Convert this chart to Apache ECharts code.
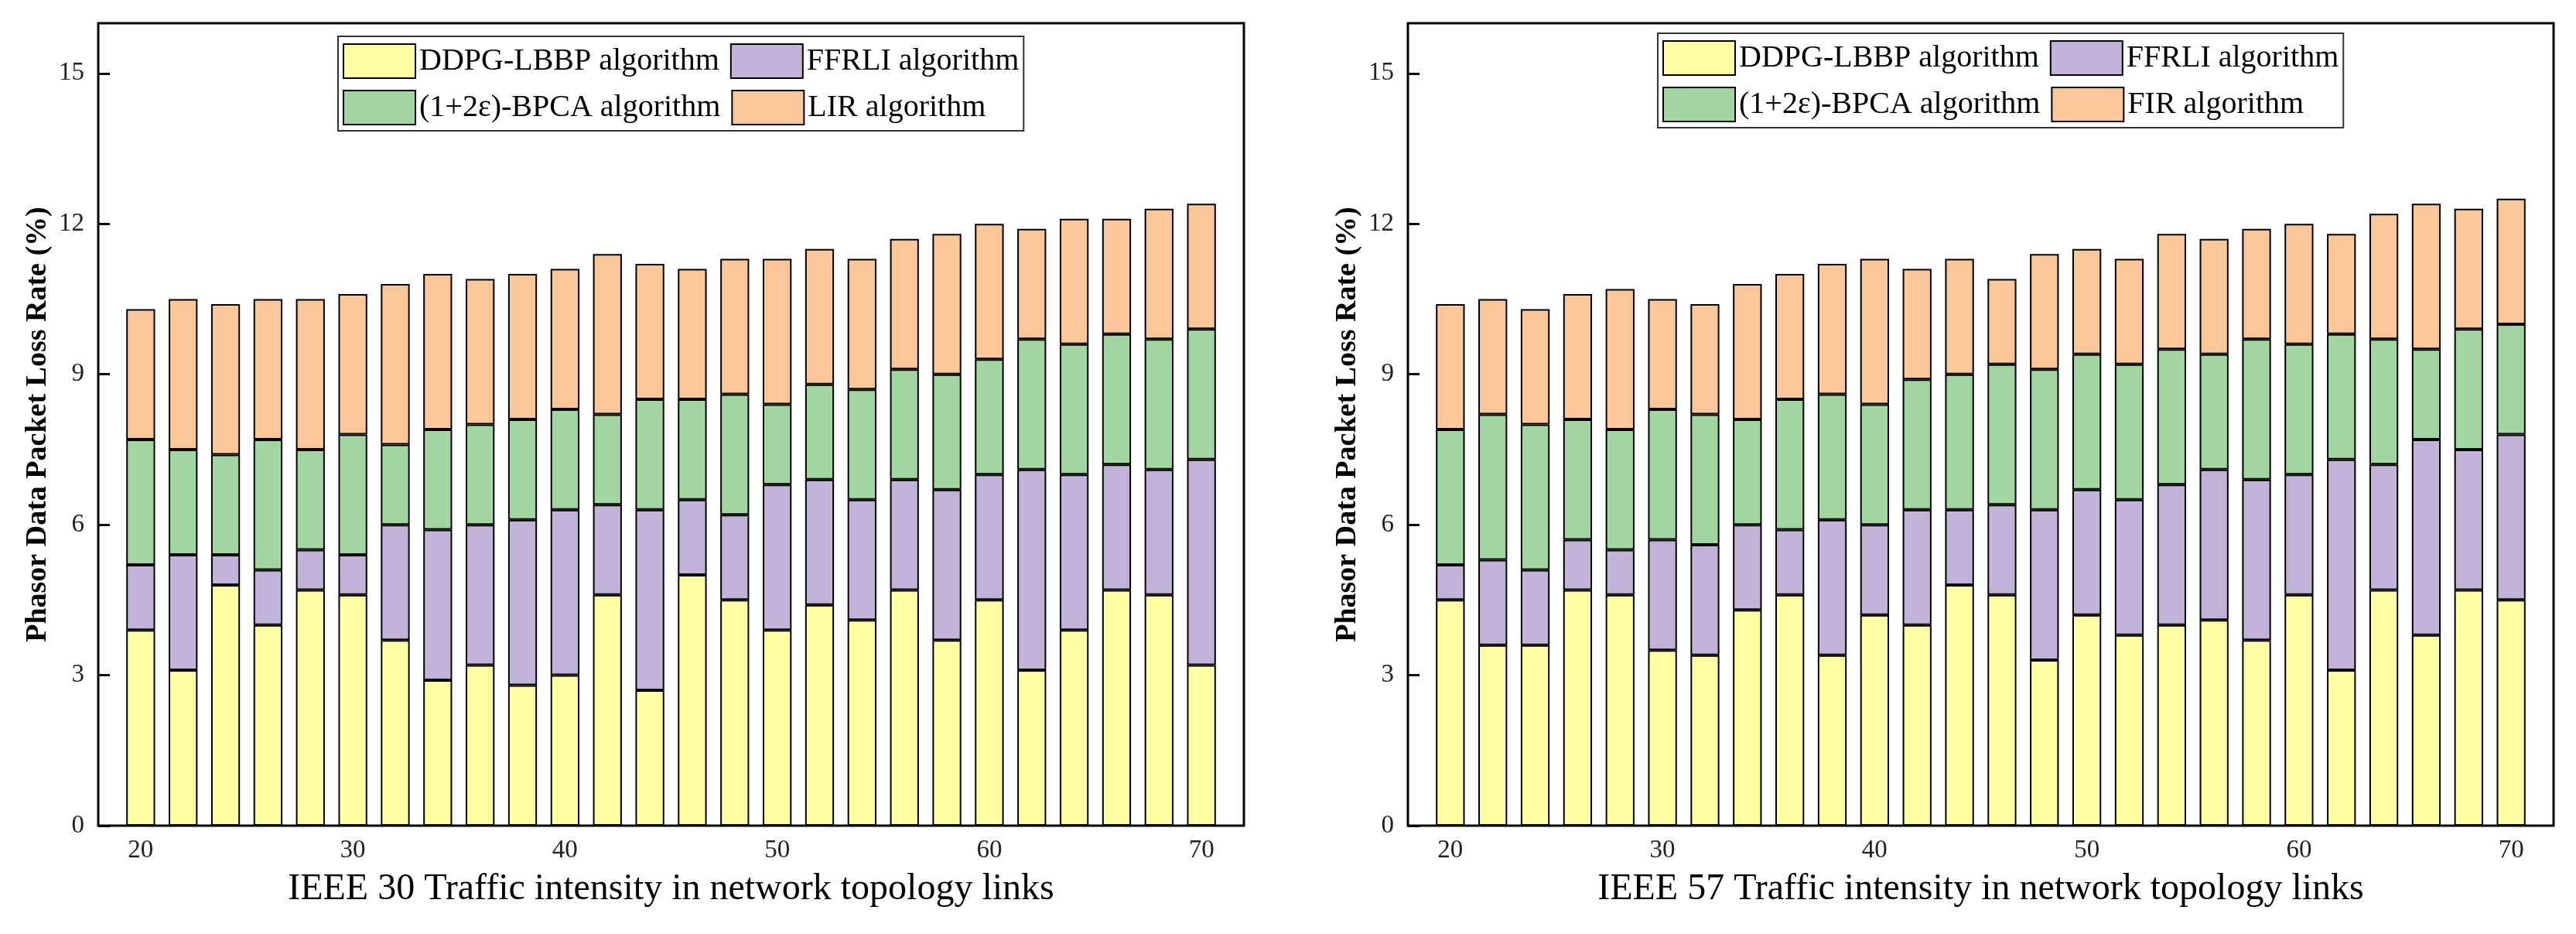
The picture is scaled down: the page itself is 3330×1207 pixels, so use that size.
<!DOCTYPE html>
<html lang="en">
<head>
    <meta charset="UTF-8">
    <title>packet loss rate</title>
    <script src="https://cdn.jsdelivr.net/npm/echarts@6/dist/echarts.min.js"></script>
</head>
<body style="margin: 0; background: #fff">
<div id="main" style="width: 3330px;height:1207px;"></div>
<script>
    // traffic intensity categories; 18 and 72 are the empty ends of the axis
    const traffic = ['18', '20', '22', '24', '26', '28', '30', '32', '34', '36', '38', '40', '42', '44', '46', '48', '50', '52', '54', '56', '58', '60', '62', '64', '66', '68', '70', '72'];
    const xTickLabels = ['20', '30', '40', '50', '60', '70'];
    const yTickValues = [0, 3, 6, 9, 12, 15];

    // IEEE 30 - segment heights of each stacked bar ('-' = no bar)
    const ieee30Ddpg = ['-', 3.9, 3.1, 4.8, 4.0, 4.7, 4.6, 3.7, 2.9, 3.2, 2.8, 3.0, 4.6, 2.7, 5.0, 4.5, 3.9, 4.4, 4.1, 4.7, 3.7, 4.5, 3.1, 3.9, 4.7, 4.6, 3.2, '-'];
    const ieee30Ffrli = ['-', 1.3, 2.3, 0.6, 1.1, 0.8, 0.8, 2.3, 3.0, 2.8, 3.3, 3.3, 1.8, 3.6, 1.5, 1.7, 2.9, 2.5, 2.4, 2.2, 3.0, 2.5, 4.0, 3.1, 2.5, 2.5, 4.1, '-'];
    const ieee30Bpca = ['-', 2.5, 2.1, 2.0, 2.6, 2.0, 2.4, 1.6, 2.0, 2.0, 2.0, 2.0, 1.8, 2.2, 2.0, 2.4, 1.6, 1.9, 2.2, 2.2, 2.3, 2.3, 2.6, 2.6, 2.6, 2.6, 2.6, '-'];
    const ieee30Lir = ['-', 2.6, 3.0, 3.0, 2.8, 3.0, 2.8, 3.2, 3.1, 2.9, 2.9, 2.8, 3.2, 2.7, 2.6, 2.7, 2.9, 2.7, 2.6, 2.6, 2.8, 2.7, 2.2, 2.5, 2.3, 2.6, 2.5, '-'];

    // IEEE 57
    const ieee57Ddpg = ['-', 4.5, 3.6, 3.6, 4.7, 4.6, 3.5, 3.4, 4.3, 4.6, 3.4, 4.2, 4.0, 4.8, 4.6, 3.3, 4.2, 3.8, 4.0, 4.1, 3.7, 4.6, 3.1, 4.7, 3.8, 4.7, 4.5, '-'];
    const ieee57Ffrli = ['-', 0.7, 1.7, 1.5, 1.0, 0.9, 2.2, 2.2, 1.7, 1.3, 2.7, 1.8, 2.3, 1.5, 1.8, 3.0, 2.5, 2.7, 2.8, 3.0, 3.2, 2.4, 4.2, 2.5, 3.9, 2.8, 3.3, '-'];
    const ieee57Bpca = ['-', 2.7, 2.9, 2.9, 2.4, 2.4, 2.6, 2.6, 2.1, 2.6, 2.5, 2.4, 2.6, 2.7, 2.8, 2.8, 2.7, 2.7, 2.7, 2.3, 2.8, 2.6, 2.5, 2.5, 1.8, 2.4, 2.2, '-'];
    const ieee57Fir = ['-', 2.5, 2.3, 2.3, 2.5, 2.8, 2.2, 2.2, 2.7, 2.5, 2.6, 2.9, 2.2, 2.3, 1.7, 2.3, 2.1, 2.1, 2.3, 2.3, 2.2, 2.4, 2.0, 2.5, 2.9, 2.4, 2.5, '-'];

    const names30 = ['DDPG-LBBP algorithm', 'FFRLI algorithm', '(1+2ε)-BPCA algorithm', 'LIR algorithm'];
    const names57 = ['DDPG-LBBP algorithm', 'FFRLI algorithm', '(1+2ε)-BPCA algorithm', 'FIR algorithm'];
    const colors = ['#FFFFA3', '#C1B3D7', '#A1D6A0', '#F9C79A'];

    const serif = 'Liberation Serif';
    const myChart = echarts.init(document.getElementById('main'));

    function showTick(index, value) {
        return xTickLabels.indexOf(String(value)) >= 0;
    }

    function makeSeries(names, lists, idx) {
        return lists.map(function (values, k) {
            return {
                type: 'bar',
                name: names[k],
                xAxisIndex: idx,
                yAxisIndex: idx,
                stack: 'total' + idx,
                barWidth: '68%',
                itemStyle: {color: colors[k], borderColor: '#000', borderWidth: 2},
                data: values
            };
        });
    }

    function makeXAxis(idx, title) {
        return {
            type: 'category',
            gridIndex: idx,
            data: traffic,
            boundaryGap: false,
            name: title,
            nameLocation: 'middle',
            nameGap: 58,
            nameTextStyle: {fontFamily: serif, fontSize: 48, color: '#000'},
            axisLine: {show: true, lineStyle: {color: '#000', width: 2}},
            axisTick: {show: true, inside: true, length: 15, interval: showTick, lineStyle: {color: '#000', width: 2}},
            axisLabel: {fontFamily: serif, fontSize: 33, color: '#222', margin: 16, interval: showTick, hideOverlap: false},
            splitLine: {show: false}
        };
    }

    function makeYAxis(idx) {
        return {
            type: 'value',
            gridIndex: idx,
            min: 0,
            max: 16,
            name: 'Phasor Data Packet Loss Rate (%)',
            nameLocation: 'middle',
            nameGap: 59,
            nameTextStyle: {fontFamily: serif, fontSize: 38, fontWeight: 'bold', color: '#000'},
            axisLine: {show: true, lineStyle: {color: '#000', width: 2}},
            axisTick: {show: true, inside: true, length: 15, lineStyle: {color: '#000', width: 3}, customValues: yTickValues},
            axisLabel: {fontFamily: serif, fontSize: 33, color: '#222', margin: 18, customValues: yTickValues},
            splitLine: {show: false}
        };
    }

    function makeLegend(names, left, top) {
        return {
            left: left,
            top: top,
            width: 900,
            orient: 'horizontal',
            icon: 'rect',
            symbolKeepAspect: false,
            itemWidth: 93,
            itemHeight: 44,
            itemGap: 14,
            padding: [9, 6, 7, 6],
            borderColor: '#333',
            borderWidth: 2,
            backgroundColor: '#fff',
            selectedMode: false,
            textStyle: {fontFamily: serif, fontSize: 40, color: '#000'},
            data: [
                {name: names[0], textStyle: {width: 402}},
                {name: names[1]},
                {name: names[2], textStyle: {width: 402}},
                {name: names[3]}
            ]
        };
    }

    const option = {
        animation: false,
        backgroundColor: '#fff',
        grid: [
            {left: 127, top: 30, width: 1481, height: 1037, show: true, borderColor: '#000', borderWidth: 3, outerBoundsMode: 'none'},
            {left: 1820, top: 30, width: 1481, height: 1037, show: true, borderColor: '#000', borderWidth: 3, outerBoundsMode: 'none'}
        ],
        legend: [
            makeLegend(names30, 437, 47),
            makeLegend(names57, 2143, 43)
        ],
        xAxis: [
            makeXAxis(0, 'IEEE 30 Traffic intensity in network topology links'),
            makeXAxis(1, 'IEEE 57 Traffic intensity in network topology links')
        ],
        yAxis: [makeYAxis(0), makeYAxis(1)],
        series: makeSeries(names30, [ieee30Ddpg, ieee30Ffrli, ieee30Bpca, ieee30Lir], 0)
            .concat(makeSeries(names57, [ieee57Ddpg, ieee57Ffrli, ieee57Bpca, ieee57Fir], 1))
    };
    myChart.setOption(option);
</script>
</body>
</html>
